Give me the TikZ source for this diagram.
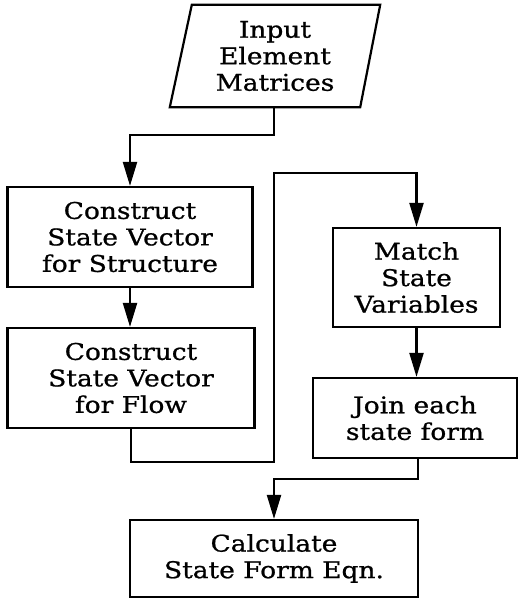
\documentclass[tikz,border=0pt]{standalone}
\usepackage{fontspec}
\setmainfont[FakeStretch=1.15,FakeBold=0.9]{DejaVu Serif}
\usetikzlibrary{arrows.meta}
\begin{document}
\begin{tikzpicture}[x=1pt,y=-1pt,
  txt/.style={align=center,font=\fontsize{23}{26.5}\selectfont,inner sep=0pt},
  box/.style={txt,draw,line width=2.2pt},
  arr/.style={line width=2.2pt,-{Triangle[length=24pt,width=14pt]}},
  lnk/.style={line width=2.2pt}]
\useasboundingbox (0,0) rectangle (518,599);
\node[txt,minimum width=210pt,minimum height=102pt] (in) at (275,56) {Input\\Element\\Matrices};
\draw[lnk,line join=miter] (in.south west) -- ([xshift=-20pt]in.south east) -- (in.north east) -- ([xshift=22pt]in.north west) -- cycle;
\node[box,minimum width=245pt,minimum height=100pt] (b1) at (130,237) {Construct\\State Vector\\for Structure};
\node[box,minimum width=247pt,minimum height=100pt] (b2) at (131,378) {Construct\\State Vector\\for Flow};
\node[box,minimum width=167pt,minimum height=99pt] (m) at (416.5,277.5) {Match\\State\\Variables};
\node[box,minimum width=204pt,minimum height=80pt] (j) at (415,418) {Join each\\state form};
\node[box,minimum width=288pt,minimum height=77pt] (c) at (274,558.5) {Calculate\\State Form Eqn.};
\coordinate (k) at (274,173);
\draw[arr] (in.south -| 274,0) -- ++(0,28) -| (b1.north);
\draw[arr] (b1.south) -- (b1.south |- b2.north);
\draw[arr] (b2.south) -- ++(0,33) -| (k) -| (m.north);
\draw[arr] (m.south) -- (m.south |- j.north);
\draw[arr] (j.south -| 418,0) -- ++(0,20) -| (c.north);
\end{tikzpicture}
\end{document}
